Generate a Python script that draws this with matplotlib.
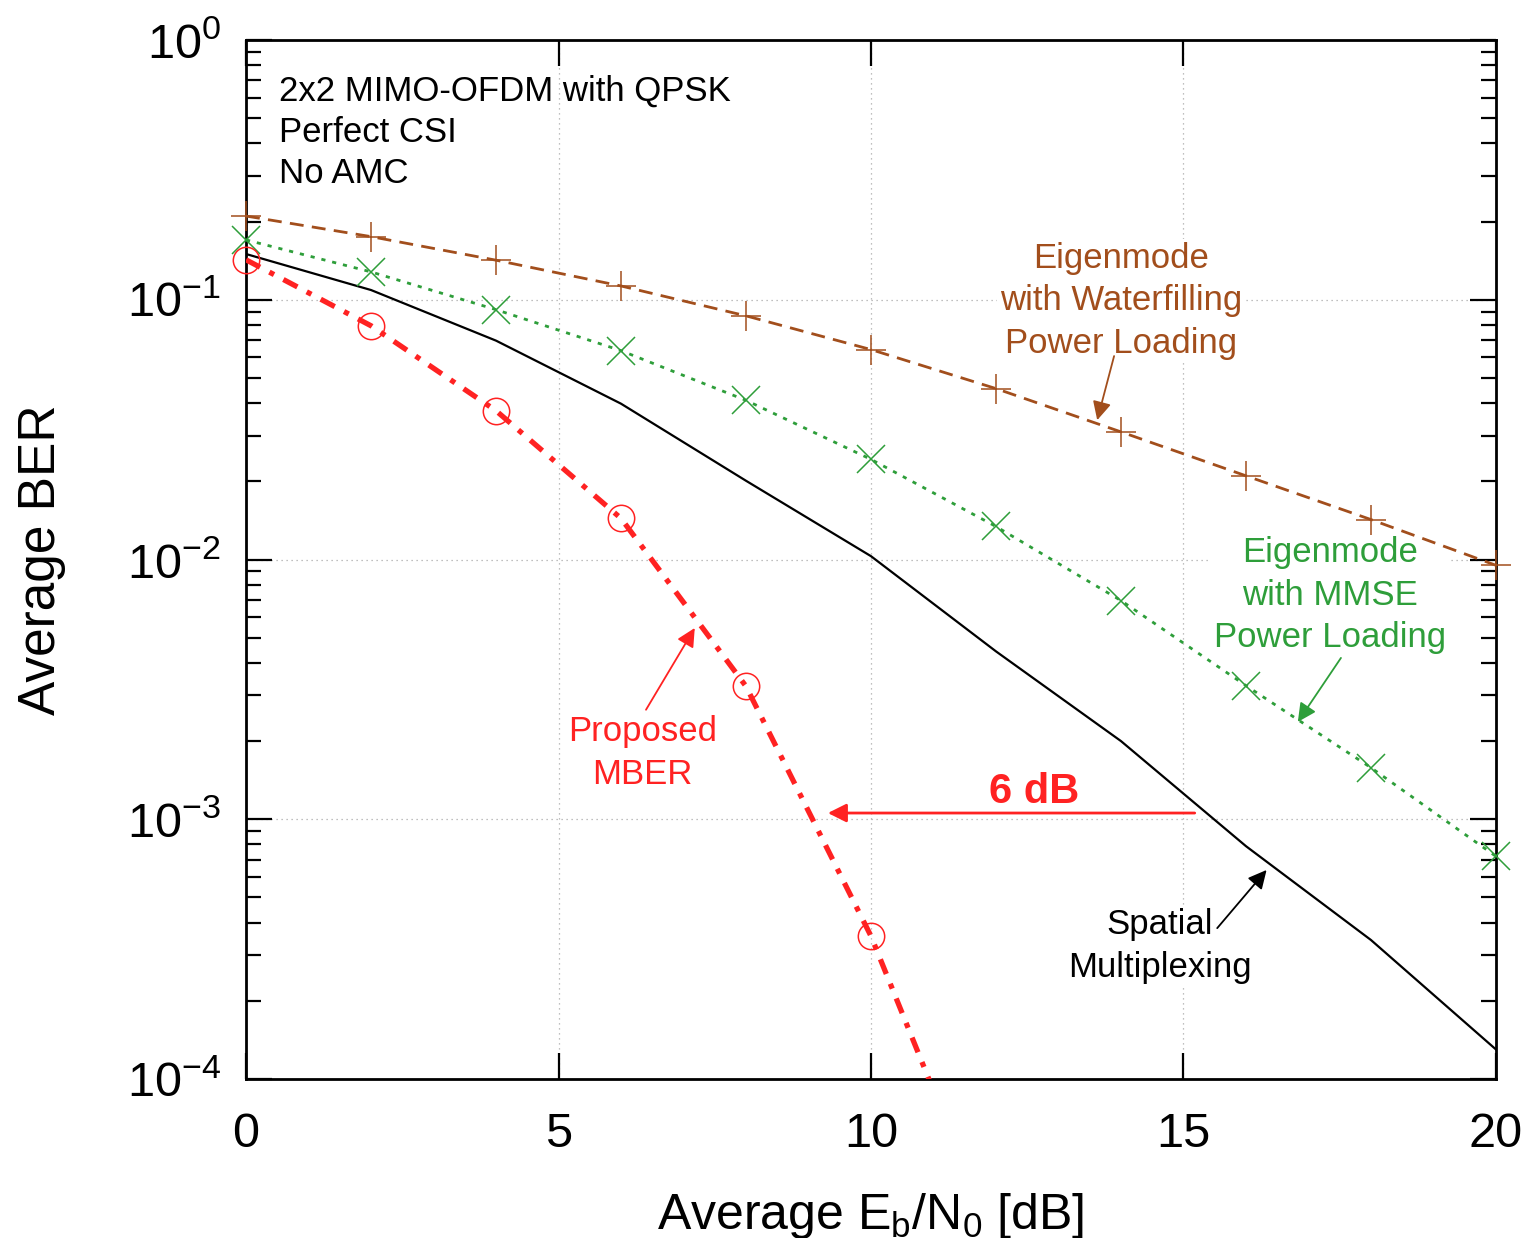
import matplotlib
matplotlib.use("Agg")
import matplotlib.pyplot as plt
from matplotlib.ticker import LogLocator, NullFormatter, FixedLocator

plt.rcParams['font.family'] = ['Liberation Sans', 'DejaVu Sans']
plt.rcParams['mathtext.fontset'] = 'custom'
plt.rcParams['mathtext.rm'] = 'Liberation Sans'
plt.rcParams['mathtext.it'] = 'Liberation Sans:italic'
plt.rcParams['mathtext.bf'] = 'Liberation Sans:bold'

# Eb/N0 points [dB]
snr = [0, 2, 4, 6, 8, 10, 12, 14, 16, 18, 20]

# BER curves
ber_waterfill = [0.21, 0.175, 0.142, 0.113, 0.0867, 0.0643, 0.0455, 0.031, 0.021, 0.01425, 0.0095]
ber_mmse = [0.17, 0.128, 0.0916, 0.0637, 0.041, 0.0243, 0.0134, 0.00695, 0.00327, 0.00158, 0.00072]
ber_sm = [0.150, 0.109, 0.0696, 0.0398, 0.0201, 0.0103, 0.00443, 0.0020, 0.000788, 0.000343, 0.00013]
snr_mber = [0, 2, 4, 6, 8, 10, 12]
ber_mber = [0.1425, 0.0794, 0.0374, 0.0144, 0.00325, 0.000355, 2.3e-5]

brown = '#A24E1C'
green = '#2E9E3A'
red = '#FF2222'

fig = plt.figure(figsize=(15.31, 12.38), dpi=100)
ax = fig.add_axes([0.1607, 0.1284, 0.8164, 0.8393])

ax.plot(snr, ber_sm, color='black', lw=1.6, zorder=3)
ax.plot(snr, ber_waterfill, color=brown, lw=2.0, ls=(0, (5, 3)),
        marker='+', ms=22, mew=1.1, zorder=4, clip_on=False)
ax.plot(snr, ber_mmse, color=green, lw=2.0, ls=(0, (1.5, 2.5)),
        marker='x', ms=20, mew=1.1, zorder=4, clip_on=False)
# MBER line runs below the axis floor, so the line is clipped but the markers are not
ax.plot(snr_mber, ber_mber, color=red, lw=3.8, ls=(0, (3, 2, 1, 2)), zorder=5)
ax.plot(snr_mber, ber_mber, ls='none', marker='o', ms=19, mfc='none', mec=red,
        mew=1.1, markevery=list(range(6)), zorder=5, clip_on=False)

ax.set_yscale('log')
ax.set_xlim(0, 20)
ax.set_ylim(1e-4, 1)
ax.xaxis.set_major_locator(FixedLocator([0, 5, 10, 15, 20]))
ax.yaxis.set_minor_locator(LogLocator(base=10, subs=range(2, 10), numticks=50))
ax.yaxis.set_minor_formatter(NullFormatter())
ax.set_yticks([1e-4, 1e-3, 1e-2, 1e-1, 1])
ax.set_yticklabels([r'$10^{-4}$', r'$10^{-3}$', r'$10^{-2}$', r'$10^{-1}$', r'$10^{0}$'])

ax.tick_params(which='both', direction='in', top=True, right=True, width=1.6)
ax.tick_params(which='major', length=19, labelsize=35)
ax.tick_params(axis='x', which='major', pad=24)
ax.tick_params(axis='y', which='major', pad=18)
ax.tick_params(which='minor', length=10.5)
for s in ax.spines.values():
    s.set_linewidth(2.0)

ax.grid(True, which='major', color='#aaaaaa', ls=(0, (1, 3)), lw=0.9)

ax.set_xlabel(r'Average E$_\mathrm{b}$/N$_\mathrm{0}$ [dB]', fontsize=36, labelpad=24)
ax.set_ylabel('Average BER', fontsize=37, labelpad=44)

# top-left settings text
ax.text(0.026, 0.967, '2x2 MIMO-OFDM with QPSK\nPerfect CSI\nNo AMC',
        transform=ax.transAxes, fontsize=25, va='top', ha='left', linespacing=1.33)

# white boxes hide the grid behind the curve labels, but stay under the curves
box = dict(facecolor='white', edgecolor='none', pad=2)

ax.text(14.0, 0.099, 'Eigenmode\nwith Waterfilling\nPower Loading', color=brown,
        fontsize=25, ha='center', va='center', linespacing=1.38, bbox=box, zorder=2)
ax.annotate('', xy=(13.62, 0.0344), xytext=(13.89, 0.0607),
            arrowprops=dict(arrowstyle='-|>', color=brown, lw=1.3,
                            mutation_scale=28, shrinkA=0, shrinkB=0), zorder=6)

ax.text(17.34, 0.0073, 'Eigenmode\nwith MMSE\nPower Loading', color=green,
        fontsize=25, ha='center', va='center', linespacing=1.38, bbox=box, zorder=2)
ax.annotate('', xy=(16.83, 0.00237), xytext=(17.52, 0.00418),
            arrowprops=dict(arrowstyle='-|>', color=green, lw=1.3,
                            mutation_scale=28, shrinkA=0, shrinkB=0), zorder=6)

ax.text(14.62, 3.25e-4, 'Spatial\nMultiplexing', color='black',
        fontsize=25, ha='center', va='center', linespacing=1.38, bbox=box, zorder=2)
ax.annotate('', xy=(16.33, 6.38e-4), xytext=(15.54, 3.81e-4),
            arrowprops=dict(arrowstyle='-|>', color='black', lw=1.3,
                            mutation_scale=28, shrinkA=0, shrinkB=0), zorder=6)

ax.text(6.34, 1.8e-3, 'Proposed\nMBER', color=red,
        fontsize=25, ha='center', va='center', linespacing=1.38, zorder=6)
ax.annotate('', xy=(7.18, 5.45e-3), xytext=(6.4, 2.64e-3),
            arrowprops=dict(arrowstyle='-|>', color=red, lw=1.3,
                            mutation_scale=28, shrinkA=0, shrinkB=0), zorder=6)

# 6 dB gain arrow
ax.annotate('', xy=(9.31, 1.057e-3), xytext=(15.18, 1.057e-3),
            arrowprops=dict(arrowstyle='-|>', color=red, lw=2.0,
                            mutation_scale=28, shrinkA=0, shrinkB=0), zorder=6)
ax.text(12.61, 1.27e-3, '6 dB', color=red, fontsize=30, fontweight='bold',
        ha='center', va='center', zorder=6)

fig.savefig('out.png', dpi=100)
